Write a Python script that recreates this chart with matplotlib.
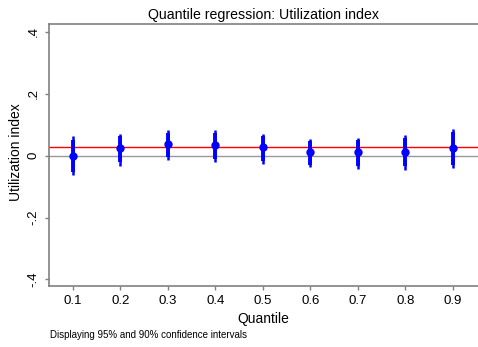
import matplotlib
matplotlib.use("Agg")
import matplotlib.pyplot as plt

plt.rcParams['font.family'] = ['Liberation Sans', 'DejaVu Sans']

# quantile regression estimates
quantiles = [0.1, 0.2, 0.3, 0.4, 0.5, 0.6, 0.7, 0.8, 0.9]
coef = [0.000, 0.023, 0.036, 0.033, 0.027, 0.013, 0.013, 0.012, 0.026]
ci95_lo = [-0.064, -0.032, -0.015, -0.020, -0.027, -0.038, -0.042, -0.045, -0.041]
ci95_hi = [0.063, 0.071, 0.082, 0.082, 0.071, 0.055, 0.057, 0.066, 0.086]
ci90_lo = [-0.052, -0.022, -0.006, -0.011, -0.018, -0.029, -0.032, -0.035, -0.029]
ci90_hi = [0.052, 0.062, 0.074, 0.073, 0.063, 0.048, 0.049, 0.058, 0.075]
ols_coef = 0.029  # OLS estimate

yticks = [-0.4, -0.2, 0.0, 0.2, 0.4]
ytick_labels = ['-.4', '-.2', '0', '.2', '.4']

fig = plt.figure(figsize=(4.78, 3.47), dpi=100)
ax = fig.add_axes([0.1025, 0.1758, 0.8975, 0.756])

ax.axhline(0, color='#999999', lw=1.0, zorder=1)
ax.axhline(ols_coef, color='red', lw=1.0, zorder=2)

ax.vlines(quantiles, ci95_lo, ci95_hi, color='blue', lw=1.8, zorder=3)
ax.vlines(quantiles, ci90_lo, ci90_hi, color='blue', lw=2.8, zorder=4)
ax.plot(quantiles, coef, 'o', color='blue', ms=5, zorder=5)

ax.set_xlim(0.0495, 0.953)
ax.set_ylim(-0.421, 0.426)
ax.set_xticks(quantiles)
ax.set_xticklabels([f'{q:.1f}' for q in quantiles], fontsize=9.5)
ax.set_yticks(yticks)
ax.set_yticklabels(ytick_labels, fontsize=9.5, rotation=90, va='center')

for s in ['left', 'bottom', 'top']:
    ax.spines[s].set_color('#808080')
    ax.spines[s].set_linewidth(1.2)
ax.spines['right'].set_visible(False)
ax.tick_params(color='#808080', length=3.2, width=1, pad=3.5)

ax.set_xlabel('Quantile', fontsize=10)
ax.set_ylabel('Utilization index', fontsize=10)
ax.xaxis.set_label_coords(0.5, -0.099)
ax.yaxis.set_label_coords(-0.061, 0.51)
ax.set_title('Quantile regression: Utilization index', fontsize=10.2, pad=3.5)

fig.text(0.105, 0.0245, 'Displaying 95% and 90% confidence intervals', fontsize=7)

fig.savefig('out.png', dpi=100)
